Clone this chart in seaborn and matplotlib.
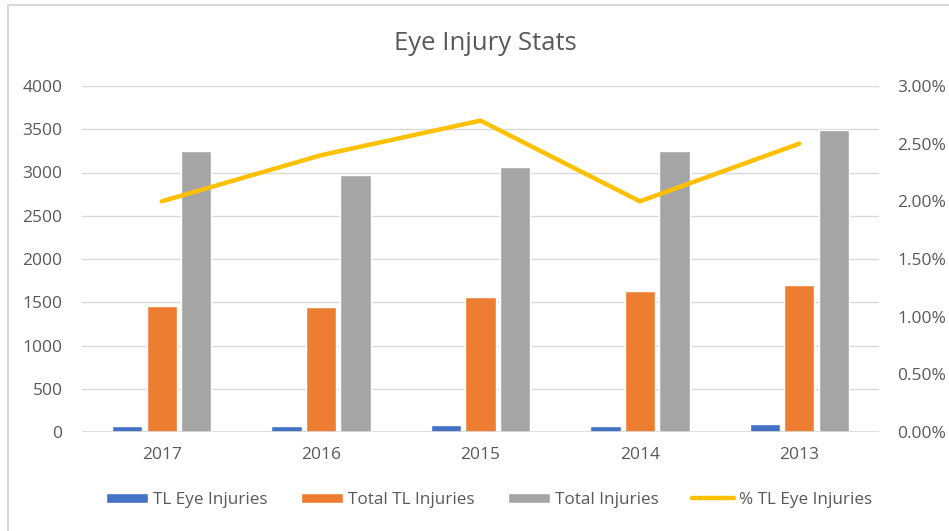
import matplotlib
matplotlib.use("Agg")
import matplotlib.pyplot as plt
import seaborn as sns
import pandas as pd
import numpy as np
from matplotlib.patches import Rectangle, Patch
from matplotlib.lines import Line2D
from matplotlib.ticker import FuncFormatter, MultipleLocator

years = ["2017", "2016", "2015", "2014", "2013"]
tl_eye = [65, 71, 83, 65, 87]
total_tl = [1460, 1440, 1560, 1630, 1700]
total_inj = [3250, 2970, 3060, 3250, 3490]
pct_tl_eye = [0.020, 0.024, 0.027, 0.020, 0.025]

series_names = ["TL Eye Injuries", "Total TL Injuries", "Total Injuries"]
colors = ["#4472C4", "#ED7D31", "#A5A5A5"]
line_name = "% TL Eye Injuries"
line_color = "#FFC000"

sns.set_theme(style="white")
plt.rcParams["font.family"] = ["Open Sans", "DejaVu Sans"]

bars = pd.DataFrame({
    "Year": years * 3,
    "Series": sum([[n] * len(years) for n in series_names], []),
    "Value": tl_eye + total_tl + total_inj,
})
line_df = pd.DataFrame({"Year": years, "Pct": pct_tl_eye})

fig = plt.figure(figsize=(9.49, 5.31), dpi=100)
ax = fig.add_axes([82 / 949, 1 - 432 / 531, (879 - 82) / 949, (432 - 86) / 531])

sns.barplot(data=bars, x="Year", y="Value", hue="Series", palette=colors,
            width=0.65, gap=0.12, ax=ax, saturation=1, legend=False)

ax2 = ax.twinx()
sns.pointplot(data=line_df, x="Year", y="Pct", color=line_color, marker="",
              linewidth=3.2, ax=ax2, errorbar=None)

txt = "#595959"
tick_fs = 12.5
ax.set_ylim(0, 4000)
ax.yaxis.set_major_locator(MultipleLocator(500))
ax2.set_ylim(0, 0.03)
ax2.yaxis.set_major_locator(MultipleLocator(0.005))
ax2.yaxis.set_major_formatter(FuncFormatter(lambda v, p: f"{v * 100:.2f}%"))
ax.set_xlim(-0.5, 4.5)
ax2.set_xlim(-0.5, 4.5)

ax.grid(axis="y", color="#D9D9D9", linewidth=1)
ax.set_axisbelow(True)
for a in (ax, ax2):
    a.set_xlabel("")
    a.set_ylabel("")
    for s in ("top", "left", "right", "bottom"):
        a.spines[s].set_visible(False)
    a.tick_params(axis="both", length=0, labelsize=tick_fs, colors=txt)
ax.axhline(0, color="#D9D9D9", linewidth=1.2, zorder=3)
ax.tick_params(axis="x", pad=11)
ax.tick_params(axis="y", pad=14)
ax2.tick_params(axis="y", pad=13)

fig.text(485 / 949, 1 - 44 / 531, "Eye Injury Stats", ha="center", va="center",
         fontsize=18.5, color=txt)

handles = [Patch(facecolor=c, label=n) for c, n in zip(colors, series_names)]
handles.append(Line2D([0], [0], color=line_color, linewidth=3.2, label=line_name))
leg = fig.legend(handles=handles, loc="center", bbox_to_anchor=(489 / 949, 1 - 500 / 531),
                 ncol=4, frameon=False, fontsize=12.3, handlelength=2.45,
                 handleheight=0.55, columnspacing=1.95, handletextpad=0.3)
for t in leg.get_texts():
    t.set_color(txt)

fig.patches.append(Rectangle((8 / 949, -0.01), 1.0, 1 - 5 / 531 + 0.01,
                             transform=fig.transFigure, fill=False,
                             edgecolor="#D9D9D9", linewidth=1.5))

fig.savefig("out.png", dpi=100)
